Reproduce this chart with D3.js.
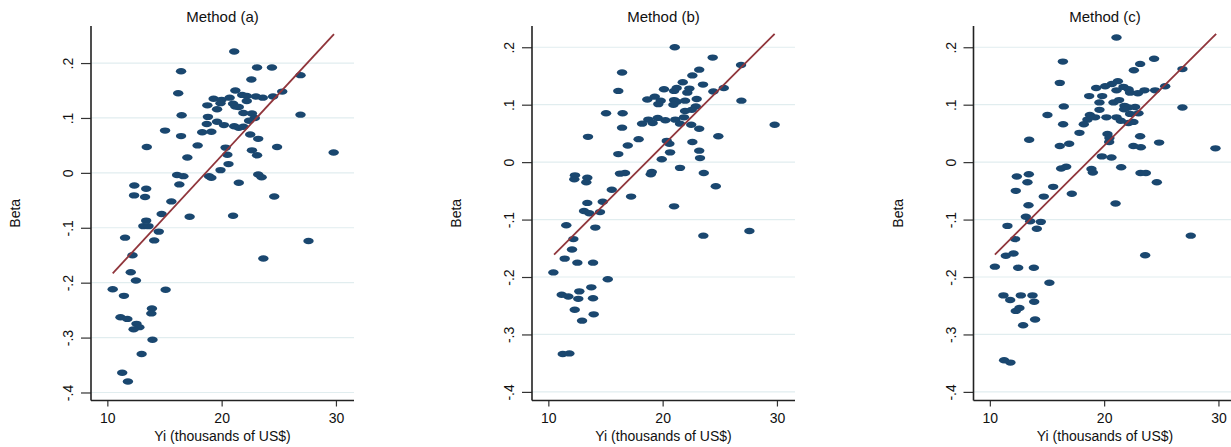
<!DOCTYPE html>
<html>
<head>
<meta charset="utf-8">
<script src="https://cdn.jsdelivr.net/npm/d3@7"></script>
<style>
  body { margin: 0; background: #fff; }
  text { font-family: 'Liberation Sans', Arial, sans-serif; fill: #111; }
</style>
</head>
<body>
<div id="chart"></div>
<script>
const width = 1231;
const height = 447;

// Method (a)
const yiA = [21.1, 16.45, 23.1, 24.4, 22.6, 26.9, 16.2, 21.2, 25.3, 19.3, 20.0, 20.7, 21.8, 22.2, 23.0, 23.6,
  24.5, 22.2, 19.9, 18.75, 21.0, 21.2, 19.6, 21.5, 21.9, 22.65, 16.5, 26.9, 18.8, 22.9, 22.4, 19.6,
  18.7, 20.2, 21.1, 21.5, 21.9, 15.05, 18.3, 19.1, 16.45, 22.5, 23.2, 13.45, 17.9, 20.35, 24.85, 22.65,
  17.0, 20.5, 23.1, 29.8, 20.6, 19.9, 16.1, 16.65, 18.9, 19.1, 23.2, 23.5, 16.3, 21.5, 12.36, 13.4,
  12.34, 13.3, 24.6, 15.6, 14.75, 17.2, 21.0, 13.4, 13.15, 13.6, 14.5, 11.55, 14.1, 27.6, 12.2, 23.65,
  12.05, 12.5, 10.47, 15.1, 11.45, 13.9, 13.85, 11.15, 11.75, 12.55, 12.8, 12.3, 13.95, 13.0, 11.3, 11.8];
const betaA = [0.221, 0.185, 0.192, 0.192, 0.170, 0.178, 0.145, 0.150, 0.148, 0.135, 0.133, 0.137, 0.142, 0.140, 0.139, 0.137,
  0.139, 0.131, 0.127, 0.123, 0.126, 0.121, 0.116, 0.120, 0.109, 0.108, 0.105, 0.106, 0.102, 0.100, 0.095, 0.093,
  0.089, 0.087, 0.085, 0.082, 0.084, 0.077, 0.074, 0.075, 0.067, 0.070, 0.062, 0.047, 0.050, 0.046, 0.047, 0.041,
  0.028, 0.033, 0.032, 0.037, 0.016, 0.005, -0.004, -0.006, -0.006, -0.009, -0.003, -0.008, -0.021, -0.018, -0.023, -0.029,
  -0.041, -0.044, -0.043, -0.052, -0.075, -0.080, -0.078, -0.087, -0.097, -0.097, -0.107, -0.118, -0.123, -0.124, -0.150, -0.156,
  -0.181, -0.196, -0.212, -0.213, -0.224, -0.247, -0.256, -0.263, -0.266, -0.275, -0.281, -0.285, -0.304, -0.330, -0.364, -0.380];
const fitA = [[10.47, -0.183], [29.83, 0.2526]];

// Method (b)
const yiB = [21.06, 24.38, 26.86, 16.45, 23.2, 22.6, 21.76, 23.53, 16.12, 20.12, 21.0, 21.23, 22.34, 22.16, 24.44, 25.35,
  19.31, 18.66, 19.83, 19.62, 21.0, 21.23, 21.96, 22.98, 20.94, 26.89, 22.9, 22.55, 21.96, 15.05, 16.5, 19.57,
  20.24, 18.75, 18.2, 19.13, 21.11, 21.87, 21.52, 22.5, 16.45, 23.2, 29.8, 13.47, 17.9, 24.87, 20.36, 20.59,
  22.6, 16.95, 16.12, 20.65, 23.2, 19.92, 23.27, 21.52, 16.27, 16.71, 18.96, 19.05, 23.6, 12.33, 12.27, 13.41,
  13.32, 24.65, 15.55, 17.24, 13.41, 14.76, 21.0, 13.12, 13.59, 14.52, 11.57, 14.11, 23.56, 27.59, 12.19, 12.07,
  11.43, 12.54, 13.91, 10.44, 15.2, 13.76, 12.71, 11.17, 11.75, 12.62, 13.91, 12.31, 13.97, 12.95, 11.26, 11.84];
const betaB = [0.200, 0.182, 0.169, 0.156, 0.161, 0.151, 0.139, 0.135, 0.124, 0.127, 0.124, 0.129, 0.128, 0.121, 0.123, 0.129,
  0.114, 0.109, 0.107, 0.101, 0.108, 0.105, 0.107, 0.110, 0.100, 0.107, 0.097, 0.091, 0.089, 0.085, 0.085, 0.077,
  0.073, 0.074, 0.067, 0.068, 0.074, 0.078, 0.067, 0.065, 0.060, 0.058, 0.065, 0.044, 0.040, 0.045, 0.037, 0.032,
  0.035, 0.029, 0.014, 0.017, 0.020, 0.005, 0.007, -0.010, -0.020, -0.019, -0.021, -0.017, -0.019, -0.023, -0.030, -0.027,
  -0.035, -0.042, -0.048, -0.060, -0.071, -0.069, -0.077, -0.085, -0.089, -0.087, -0.110, -0.114, -0.128, -0.120, -0.134, -0.152,
  -0.168, -0.175, -0.175, -0.192, -0.204, -0.218, -0.225, -0.231, -0.234, -0.238, -0.237, -0.257, -0.265, -0.276, -0.334, -0.333];
const fitB = [[10.5, -0.161], [29.8, 0.2233]];

// Method (c)
const yiC = [21.08, 24.37, 23.15, 16.39, 22.6, 26.85, 16.12, 21.2, 20.67, 20.09, 19.3, 21.69, 22.13, 22.27, 22.95, 23.53,
  24.46, 25.34, 21.08, 18.69, 19.83, 19.59, 20.82, 21.31, 16.47, 21.78, 22.13, 22.71, 21.75, 26.85, 19.59, 15.04,
  18.75, 18.54, 19.21, 20.2, 21.08, 22.27, 23.0, 21.46, 22.13, 22.56, 18.22, 16.41, 17.84, 20.29, 20.46, 13.44,
  20.44, 23.15, 16.94, 16.12, 24.81, 22.56, 23.21, 29.74, 19.8, 20.64, 16.24, 16.68, 18.89, 19.01, 21.49, 12.36,
  13.41, 13.29, 23.18, 23.65, 24.61, 12.27, 15.54, 14.72, 17.17, 13.38, 21.0, 13.15, 13.53, 14.46, 11.54, 14.11,
  27.58, 12.21, 12.07, 11.4, 23.59, 10.44, 12.48, 13.85, 15.21, 11.19, 12.71, 13.73, 11.78, 13.88, 12.59, 12.27,
  13.96, 12.91, 11.25, 11.8];
const betaC = [0.217, 0.180, 0.171, 0.175, 0.160, 0.162, 0.138, 0.141, 0.136, 0.132, 0.129, 0.131, 0.127, 0.121, 0.120, 0.125,
  0.125, 0.132, 0.125, 0.115, 0.115, 0.104, 0.104, 0.108, 0.097, 0.098, 0.095, 0.096, 0.092, 0.095, 0.091, 0.082,
  0.082, 0.074, 0.078, 0.078, 0.078, 0.084, 0.085, 0.072, 0.068, 0.070, 0.066, 0.066, 0.051, 0.049, 0.042, 0.039,
  0.035, 0.045, 0.032, 0.028, 0.034, 0.028, 0.026, 0.024, 0.010, 0.008, -0.011, -0.008, -0.012, -0.018, -0.009, -0.025,
  -0.021, -0.035, -0.019, -0.019, -0.035, -0.050, -0.043, -0.060, -0.055, -0.075, -0.072, -0.095, -0.103, -0.104, -0.111, -0.116,
  -0.128, -0.134, -0.159, -0.163, -0.162, -0.182, -0.184, -0.184, -0.210, -0.232, -0.232, -0.232, -0.240, -0.243, -0.254, -0.259,
  -0.274, -0.284, -0.345, -0.349];
const fitC = [[10.44, -0.161], [29.8, 0.2233]];

const xTicks = [10, 20, 30];
const yTicks = [-0.4, -0.3, -0.2, -0.1, 0, 0.1, 0.2];

const plotTop = 26;
const plotBottom = 400.5;
const plotWidth = 263;

const markerColor = '#1a476f';
const lineColor = '#90353b';
const gridColor = '#e1edef';

let svg = d3.select('#chart').append('svg')
    .attr('width', width)
    .attr('height', height);

drawPanel('Method (a)', 91, [-0.4146, 0.2675], yiA, betaA, fitA);
drawPanel('Method (b)', 532, [-0.415, 0.237], yiB, betaB, fitB);
drawPanel('Method (c)', 973.5, [-0.415, 0.237], yiC, betaC, fitC);

// stata style labels: .2, -.1, 0 (plain hyphen, not unicode minus)
function fmtBeta(d) {
  if (d === 0) return '0';
  let s = d.toFixed(1).replace('0.', '.');
  return s;
}

function drawPanel(title, left, yDomain, yi, beta, fit) {
  let x = d3.scaleLinear().domain([8.57, 31.58]).range([left, left + plotWidth]);
  let y = d3.scaleLinear().domain(yDomain).range([plotBottom, plotTop]);

  let g = svg.append('g');

  // grid
  g.selectAll('line.grid')
      .data(yTicks)
      .enter()
      .append('line')
      .attr('class', 'grid')
      .attr('x1', left)
      .attr('x2', left + plotWidth)
      .attr('y1', d => y(d))
      .attr('y2', d => y(d))
      .attr('stroke', gridColor)
      .attr('stroke-width', 1.2);

  // y axis
  let yAxis = d3.axisLeft(y).tickValues(yTicks).tickSize(10).tickPadding(8).tickFormat(fmtBeta);
  let ya = g.append('g')
      .attr('transform', 'translate(' + left + ',0)')
      .call(yAxis);
  ya.select('.domain').remove();
  ya.selectAll('.tick line').attr('stroke', '#333').attr('stroke-width', 1.2);
  ya.selectAll('.tick text')
      .attr('font-size', 14)
      .attr('text-anchor', 'middle')
      .attr('dy', 0)
      .attr('x', 0)
      .attr('transform', 'translate(-18,0) rotate(-90)');

  // x axis
  let xAxis = d3.axisBottom(x).tickValues(xTicks).tickSize(6).tickPadding(6).tickFormat(d3.format('d'));
  let xa = g.append('g')
      .attr('transform', 'translate(0,' + plotBottom + ')')
      .call(xAxis);
  xa.select('.domain').remove();
  xa.selectAll('.tick line').attr('stroke', '#333').attr('stroke-width', 1.2);
  xa.selectAll('.tick text').attr('font-size', 14).attr('dy', 0).attr('y', 22);

  // axis lines
  g.append('line')
      .attr('x1', left).attr('x2', left)
      .attr('y1', plotTop).attr('y2', plotBottom)
      .attr('stroke', '#222').attr('stroke-width', 1.6);
  g.append('line')
      .attr('x1', left).attr('x2', left + plotWidth)
      .attr('y1', plotBottom).attr('y2', plotBottom)
      .attr('stroke', '#222').attr('stroke-width', 1.6);

  // points
  let pts = yi.map((v, i) => ({yi: v, beta: beta[i]}));
  g.selectAll('ellipse')
      .data(pts)
      .enter()
      .append('ellipse')
      .attr('cx', d => x(d.yi))
      .attr('cy', d => y(d.beta))
      .attr('rx', 5.2)
      .attr('ry', 3.2)
      .attr('fill', markerColor);

  // fitted line
  g.append('path')
      .datum(fit)
      .attr('d', d3.line().x(d => x(d[0])).y(d => y(d[1])))
      .attr('fill', 'none')
      .attr('stroke', lineColor)
      .attr('stroke-width', 1.8);

  // titles
  g.append('text')
      .attr('x', left + plotWidth / 2)
      .attr('y', 21.5)
      .attr('text-anchor', 'middle')
      .attr('font-size', 15)
      .text(title);

  g.append('text')
      .attr('x', left + plotWidth / 2)
      .attr('y', 440.5)
      .attr('text-anchor', 'middle')
      .attr('font-size', 14)
      .text('Yi (thousands of US$)');

  g.append('text')
      .attr('transform', 'translate(' + (left - 71) + ',' + ((plotTop + plotBottom) / 2) + ') rotate(-90)')
      .attr('text-anchor', 'middle')
      .attr('font-size', 14)
      .text('Beta');
}
</script>
</body>
</html>
